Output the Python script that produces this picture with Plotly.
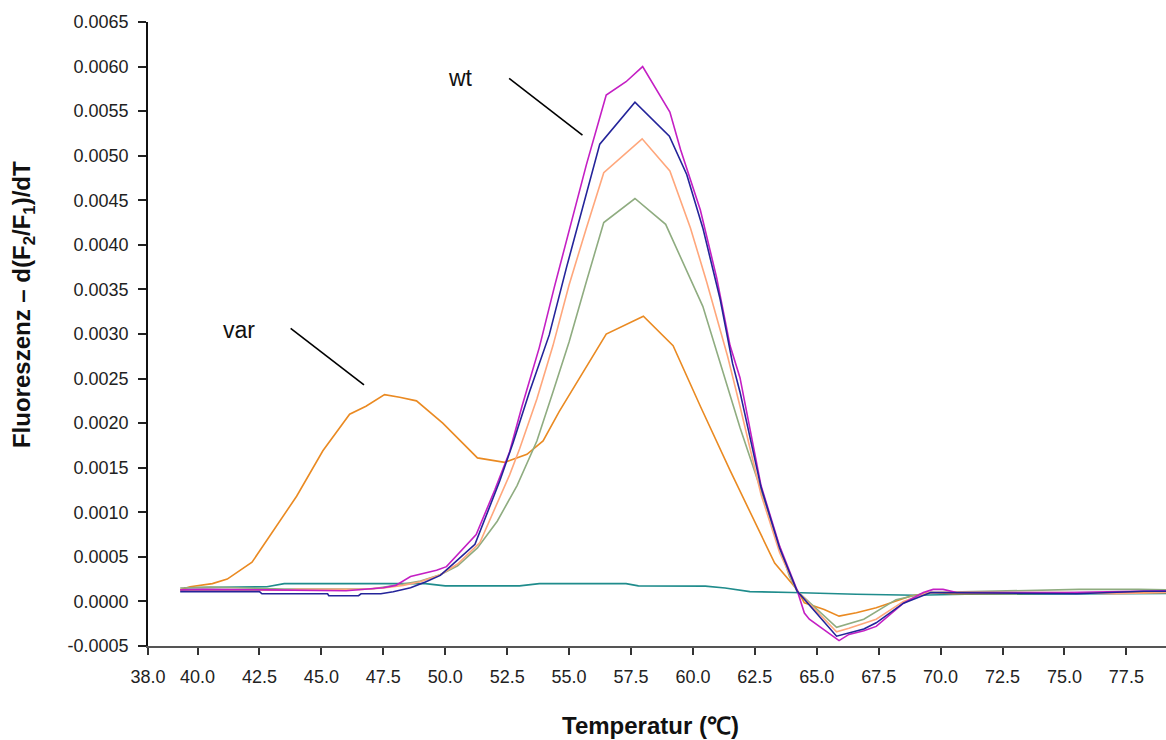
import plotly.graph_objects as go

# ---------------- data ----------------
# wt sample 1 (magenta)
temps_wt1 = [39.3, 40.2, 42.8, 46.0, 47.5, 48.0, 48.6, 49.65, 50.05, 50.6, 51.25, 52.0,
             52.6, 53.1, 53.8, 54.4, 55.03, 55.7, 56.5, 57.3, 57.97, 59.07, 59.5, 60.3,
             60.96, 61.5, 61.9, 62.75, 63.5, 64.2, 64.5, 64.7, 65.9, 66.3, 66.9, 67.4,
             68.5, 69.3, 69.7, 70.1, 70.65, 75.0, 79.2]
fluor_wt1 = [0.00013, 0.000135, 0.00013, 0.00012, 0.000154, 0.00018, 0.00028, 0.00035,
             0.00039, 0.00055, 0.00075, 0.00125, 0.00168, 0.00219, 0.00285, 0.00352,
             0.00420, 0.00490, 0.00568, 0.00583, 0.00600, 0.00549, 0.00507, 0.00439,
             0.00363, 0.00287, 0.00251, 0.00130, 0.00062, 0.00013, -0.00013, -0.00020,
             -0.00044, -0.00037, -0.00033, -0.00028, -0.00002, 0.00010, 0.000135,
             0.000135, 0.00010, 0.00010, 0.00012]

# wt sample 2 (navy)
temps_wt2 = [39.3, 42.5, 42.6, 45.25, 45.3, 46.5, 46.6, 47.4, 47.9, 48.6, 49.2, 49.8,
             50.3, 51.2, 52.2, 52.74, 53.4, 54.2, 54.9, 55.57, 56.24, 57.66, 59.05,
             59.75, 60.4, 61.1, 61.6, 61.9, 62.75, 63.5, 64.2, 65.8, 66.2, 66.9, 67.4,
             68.5, 69.6, 75.5, 78.2, 79.2]
fluor_wt2 = [0.00011, 0.00011, 0.000086, 0.000086, 0.000064, 0.000064, 0.000086,
             0.000086, 0.000109, 0.000154, 0.000217, 0.000292, 0.000415, 0.00064,
             0.00135, 0.00178, 0.00235, 0.00299, 0.00375, 0.00443, 0.00513, 0.00560,
             0.00522, 0.00479, 0.00419, 0.00339, 0.00267, 0.00235, 0.00128, 0.00060,
             0.00012, -0.00039, -0.00036, -0.00031, -0.00024, -0.00002, 0.00010,
             0.000086, 0.000115, 0.000115]

# wt sample 3 (light salmon)
temps_wt3 = [39.3, 40.0, 43.5, 44.0, 46.6, 47.5, 48.3, 49.0, 49.8, 50.5, 51.4, 52.6,
             53.0, 53.7, 54.35, 55.0, 55.7, 56.4, 57.95, 59.07, 59.9, 60.55, 61.4, 61.9,
             62.75, 63.5, 64.2, 65.8, 66.3, 67.4, 68.5, 69.5, 75.0, 77.0, 79.2]
fluor_wt3 = [0.00012, 0.000125, 0.000125, 0.000135, 0.000135, 0.00015, 0.00018,
             0.00022, 0.00030, 0.00042, 0.00066, 0.00142, 0.00171, 0.00227, 0.00287,
             0.00355, 0.00419, 0.00481, 0.00519, 0.00483, 0.00419, 0.00359, 0.00275,
             0.00219, 0.00120, 0.00055, 0.00012, -0.00034, -0.00030, -0.00020, 0.0,
             0.00010, 0.00010, 0.000086, 0.00010]

# wt sample 4 (sage green)
temps_wt4 = [39.3, 40.5, 43.5, 47.0, 48.2, 49.0, 49.8, 50.5, 51.3, 52.1, 52.9, 53.7,
             54.35, 55.0, 55.7, 56.4, 57.66, 58.9, 60.4, 61.2, 61.9, 62.6, 63.9, 64.2,
             65.8, 66.9, 68.2, 69.5, 75.6, 78.0, 79.2]
fluor_wt4 = [0.00015, 0.00016, 0.00014, 0.00014, 0.00019, 0.00023, 0.00030, 0.00040,
             0.00060, 0.00090, 0.00130, 0.00180, 0.00235, 0.00291, 0.00359, 0.00425,
             0.00452, 0.00423, 0.00331, 0.00259, 0.00195, 0.00137, 0.00028, 0.00012,
             -0.00029, -0.00020, 0.00002, 0.00010, 0.000135, 0.000135, 0.00013]

# variant sample (orange)
temps_var = [39.3, 39.7, 40.6, 41.2, 42.2, 42.9, 44.0, 45.06, 46.14, 46.8, 47.55, 48.16,
             48.84, 49.9, 51.3, 52.4, 53.3, 53.95, 54.6, 56.5, 58.0, 59.2, 60.3, 61.5,
             62.6, 63.3, 64.2, 64.5, 65.3, 65.9, 66.6, 67.4, 68.8, 69.6, 70.5, 75.0, 79.2]
fluor_var = [0.00013, 0.000165, 0.00020, 0.00025, 0.00044, 0.00073, 0.00118, 0.00169,
             0.00210, 0.00219, 0.00232, 0.00229, 0.00225, 0.00200, 0.00161, 0.00156,
             0.00165, 0.00180, 0.00213, 0.00300, 0.00320, 0.00287, 0.00219, 0.00147,
             0.00084, 0.00043, 0.000135, -0.000015, -0.00009, -0.000165, -0.000127,
             -0.00007, 0.00006, 0.00010, 0.000086, 0.00009, 0.00010]

# negative control (teal)
temps_ctrl = [39.45, 42.8, 43.5, 49.2, 50.0, 53.0, 53.8, 57.3, 57.8, 60.5, 61.3, 62.3,
              64.0, 66.6, 69.0, 71.0, 79.2]
fluor_ctrl = [0.000154, 0.000165, 0.00020, 0.00020, 0.000175, 0.000175, 0.00020,
              0.00020, 0.000175, 0.000172, 0.00015, 0.00011, 0.00010, 0.00008,
              0.00007, 0.00008, 0.00009]

series_names = ["Kontrolle", "var", "wt 4", "wt 3", "wt 1", "wt 2"]
series_temps = [temps_ctrl, temps_var, temps_wt4, temps_wt3, temps_wt1, temps_wt2]
series_vals = [fluor_ctrl, fluor_var, fluor_wt4, fluor_wt3, fluor_wt1, fluor_wt2]
series_colors = ["#1f8c8c", "#ea8a22", "#8fac80", "#ffa77c", "#c41fc4", "#24249a"]

x_ticks = [38.0, 40.0, 42.5, 45.0, 47.5, 50.0, 52.5, 55.0, 57.5, 60.0, 62.5, 65.0,
           67.5, 70.0, 72.5, 75.0, 77.5]
y_ticks = [-0.0005, 0.0, 0.0005, 0.0010, 0.0015, 0.0020, 0.0025, 0.0030, 0.0035,
           0.0040, 0.0045, 0.0050, 0.0055, 0.0060, 0.0065]

# label pointers (text position, line start, line end) in data units
label_texts = ["wt", "var"]
label_pos = [(50.63, 0.00587), (41.66, 0.00305)]
pointer_lines = [((52.58, 0.005868), (55.54, 0.005232)),
                 ((43.76, 0.003064), (46.72, 0.002428))]

FONT = "Liberation Sans, Arial, Helvetica, sans-serif"

fig = go.Figure()
for name, t, v, c in zip(series_names, series_temps, series_vals, series_colors):
    fig.add_trace(go.Scatter(x=t, y=v, mode="lines", name=name,
                             line=dict(color=c, width=1.6), showlegend=False))

for txt, (x, y) in zip(label_texts, label_pos):
    fig.add_annotation(x=x, y=y, xref="x", yref="y", text=txt, showarrow=False,
                       font=dict(family=FONT, size=23, color="#111"),
                       xanchor="center", yanchor="middle")
for (x0, y0), (x1, y1) in pointer_lines:
    fig.add_shape(type="line", xref="x", yref="y", x0=x0, y0=y0, x1=x1, y1=y1,
                  line=dict(color="black", width=1.6))

# axis titles
fig.add_annotation(xref="paper", yref="paper", x=-0.1228, y=0.548,
                   text="<b>Fluoreszenz – d(F<sub>2</sub>/F<sub>1</sub>)/dT</b>",
                   textangle=-90, showarrow=False,
                   font=dict(family=FONT, size=24, color="#111"),
                   xanchor="center", yanchor="middle")
fig.add_annotation(xref="paper", yref="paper", x=0.494, y=-0.128,
                   text="<b>Temperatur (℃)</b>", showarrow=False,
                   font=dict(family=FONT, size=24, color="#111"),
                   xanchor="center", yanchor="middle")

fig.update_layout(
    width=1166, height=740, autosize=False,
    margin=dict(l=148, r=0, t=22, b=94, autoexpand=False),
    paper_bgcolor="white", plot_bgcolor="white",
    font=dict(family=FONT, color="#222"),
    xaxis=dict(range=[38.0, 79.1], tickvals=x_ticks,
               ticktext=[f"{v:.1f}" for v in x_ticks],
               ticks="outside", ticklen=7, tickwidth=1.5, tickcolor="#333",
               showline=True, linecolor="#555", linewidth=2,
               showgrid=False, zeroline=False, automargin=False,
               tickfont=dict(family=FONT, size=18, color="#222"),
               ticklabelstandoff=6),
    yaxis=dict(range=[-0.0005, 0.0065], tickvals=y_ticks,
               ticktext=[f"{v:.4f}" for v in y_ticks],
               ticks="outside", ticklen=8, tickwidth=1.5, tickcolor="#222",
               showline=True, linecolor="#111", linewidth=1.5,
               showgrid=False, zeroline=False, automargin=False,
               tickfont=dict(family=FONT, size=18, color="#222"),
               ticklabelstandoff=6),
)

fig.write_html(
    "out.html",
    config={"displayModeBar": False},
    post_script="document.body.style.margin='0';document.body.style.overflow='hidden';",
)
